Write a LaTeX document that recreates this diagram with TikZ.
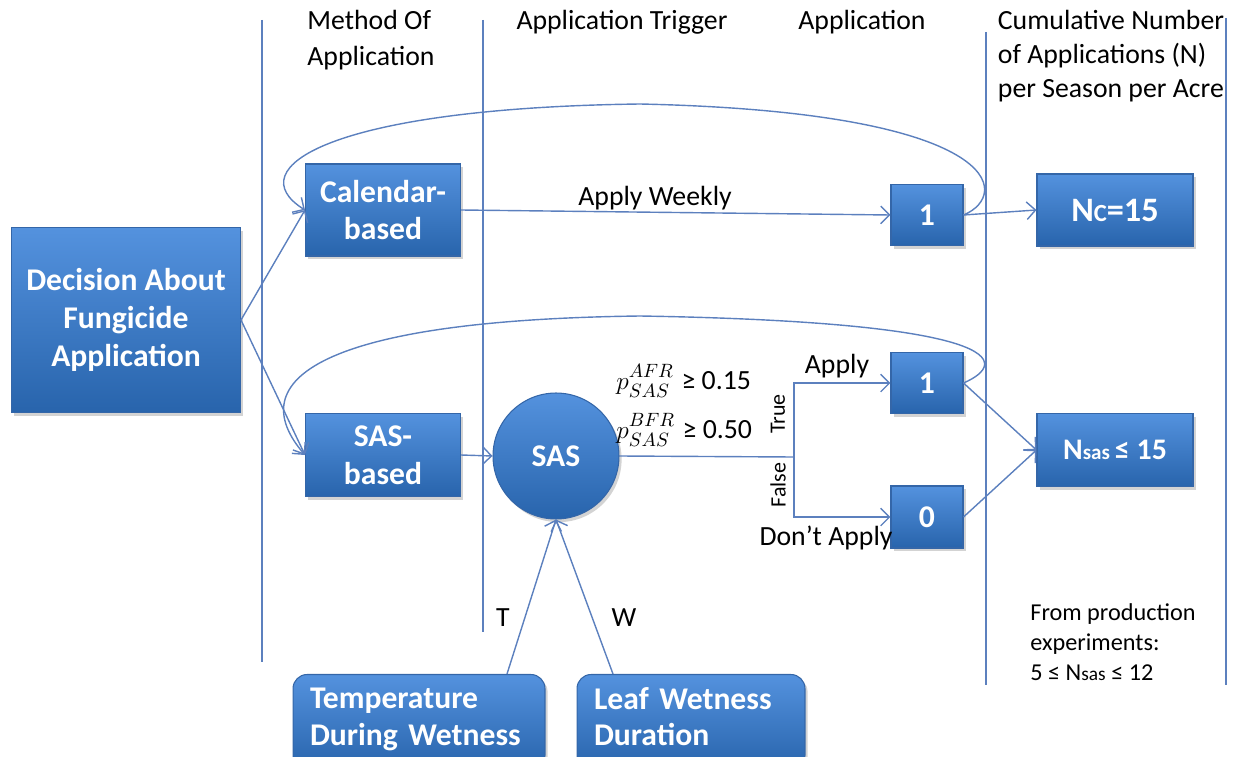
\documentclass[tikz,border=0pt]{standalone}
\usepackage{fontspec}
\setmainfont{Carlito}
\usetikzlibrary{arrows.meta, shadows, calc}

\definecolor{boxtop}{RGB}{84,146,222}
\definecolor{boxbot}{RGB}{40,100,172}
\definecolor{boxedge}{RGB}{52,102,168}
\definecolor{lnblue}{RGB}{92,128,190}

\newcommand{\psas}[1]{$p^{\raisebox{1.5pt}{$\scriptstyle #1$}}_{\raisebox{-1.5pt}{$\scriptstyle SAS$}}$}

\begin{document}
\begin{tikzpicture}[
    x=0.02cm, y=-0.02cm,
    box/.style={rectangle, draw=boxedge, line width=0.6pt, top color=boxtop, bottom color=boxbot, drop shadow={opacity=0.35, shadow xshift=1.5pt, shadow yshift=-1.8pt}, text=white, align=center, inner sep=2pt, font=\fontsize{18}{21.5}\selectfont\bfseries},
    roundbox/.style={box, rounded corners=8pt, align=left, inner xsep=0.34cm},
    head/.style={align=left, inner sep=0pt, font=\fontsize{15.8}{20.4}\selectfont},
    lbl/.style={inner sep=0pt, font=\fontsize{15.8}{17}\selectfont},
    small/.style={inner sep=0pt, font=\fontsize{12.5}{14}\selectfont},
    link/.style={draw=lnblue, line width=0.8pt},
    arrow/.style={link, -{Straight Barb[length=5pt, width=10pt]}}
]
\useasboundingbox (0,0) rectangle (1238,757);

% Column separators
\draw[link] (262,20) coordinate (c1a) -- (262,662) coordinate (c1b);
\draw[link] (483,20) coordinate (c2a) -- (483,632) coordinate (c2b);
\draw[link] (986,32) coordinate (c3a) -- (986,685) coordinate (c3b);
\draw[link] (1226,18) coordinate (c4a) -- (1226,685) coordinate (c4b);

% Column headings
\node[head] (hmethod) at (371,40) {Method Of\\Application};
\node[head] (htrigger) at (622,22) {Application Trigger};
\node[head] (happly) at (862,22) {Application};
\node[head, font=\fontsize{15.8}{19.3}\selectfont] (hcount) at (1111,56) {Cumulative Number\\of Applications (N)\\per Season per Acre};

% Boxes
\node[box, minimum width=4.58cm, minimum height=3.7cm] (decision) at (126,320) {Decision About\\Fungicide\\Application};
\node[box, minimum width=3.1cm, minimum height=1.84cm] (calendar) at (383,210) {Calendar-\\based};
\node[box, minimum width=3.1cm, minimum height=1.66cm] (sasbased) at (383,455) {SAS-\\based};
\node[box, circle, minimum size=2.52cm] (sas) at (556,456) {SAS};

\node[box, minimum width=1.44cm, minimum height=1.22cm] (weekone) at (927,215) {1};
\node[box, minimum width=1.44cm, minimum height=1.22cm] (sasone) at (927,383) {1};
\node[box, minimum width=1.44cm, minimum height=1.24cm] (saszero) at (927,517) {0};

\node[box, minimum width=3.12cm, minimum height=1.44cm, font=\fontsize{19.5}{21}\selectfont\bfseries] (ncal) at (1115,210) {N{\fontsize{14}{14}\selectfont C}=15};
\node[box, minimum width=3.12cm, minimum height=1.46cm, font=\fontsize{17}{21}\selectfont\bfseries] (nsas) at (1115,450) {N{\fontsize{12}{12}\selectfont sas}\,≤ 15};

\node[roundbox, text width=4.36cm, minimum height=1.9cm, font=\fontsize{18}{21}\selectfont\bfseries] (temp) at (419,722) {Temperature\\During Wetness\strut};
\node[roundbox, text width=3.88cm, minimum height=1.9cm, font=\fontsize{18}{21}\selectfont\bfseries] (leaf) at (691,722) {Leaf Wetness\\Duration\strut};

% Labels
\node[lbl] (weekly) at (655,198) {Apply Weekly};
\node[lbl, anchor=west] (afr) at (616,381) {\psas{AFR}\;≥ 0.15};
\node[lbl, anchor=west] (bfr) at (616,430) {\psas{BFR}\;≥ 0.50};
\node[lbl] (apply) at (837,366) {Apply};
\node[lbl] (dont) at (826,538) {Don’t Apply};
\node[small, rotate=90] (true) at (778,414) {True};
\node[small, rotate=90] (false) at (778,485) {False};
\node[lbl] (tlbl) at (503,618) {T};
\node[lbl] (wlbl) at (624,618) {W};
\node[head, font=\fontsize{13.8}{17}\selectfont] (note) at (1113,642) {From production\\experiments:\\5 ≤ N{\fontsize{11}{11}\selectfont sas} ≤ 12};

% Connectors
\draw[arrow] (decision.east) -- (calendar.west);
\draw[arrow] (decision.east) -- (sasbased.west);
\draw[arrow] (calendar.east) -- (weekone.west);
\draw[arrow] (weekone.east) -- (ncal.west);
\draw[arrow] (sasbased.east) -- (sas.west);

\coordinate (split) at (794,457);
\draw[link] (sas.east) -- (split);
\draw[arrow] (split) |- (sasone.west);
\draw[arrow] (split) |- (saszero.west);

\draw[arrow] (sasone.east) -- (nsas.west);
\draw[arrow] (saszero.east) -- (nsas.west);

\draw[arrow] ($(temp.north)+(88,0)$) -- (sas.south);
\draw[arrow] ($(leaf.north)+(-78,0)$) -- (sas.south);

% Repeat loops
\draw[arrow] (weekone.east) .. controls (1012,195) and (1004,112) .. (640,104)
    .. controls (330,108) and (238,168) .. (calendar.west);
\draw[arrow] (sasone.east) .. controls (1012,362) and (1004,322) .. (640,316)
    .. controls (320,320) and (240,380) .. (sasbased.west);

\end{tikzpicture}
\end{document}
